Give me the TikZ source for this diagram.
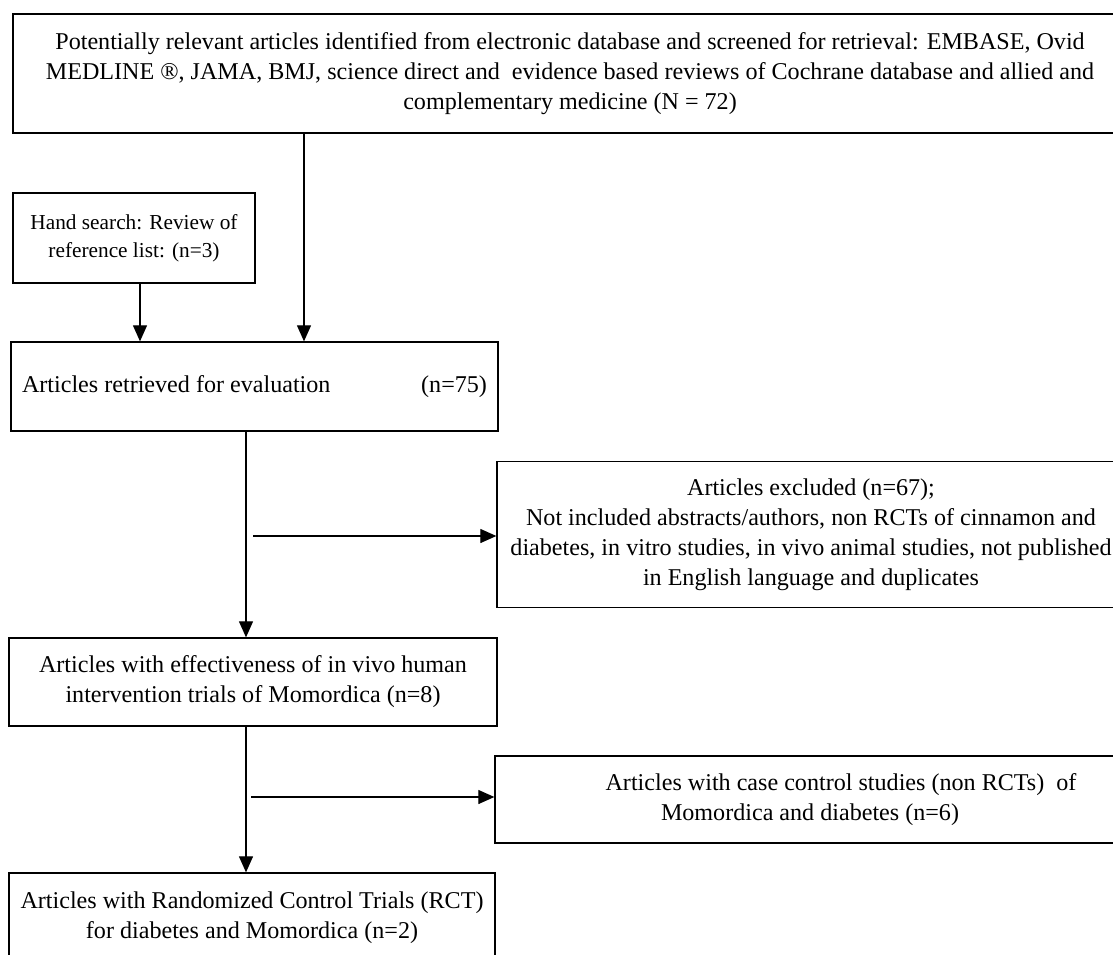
\documentclass[tikz,border=0pt]{standalone}
\usepackage{fontspec}
\setmainfont{Liberation Serif}
\usetikzlibrary{arrows.meta}
\begin{document}
\begin{tikzpicture}[x=1pt,y=-1pt,
  box/.style={draw, line width=1.3pt, rectangle, inner sep=0pt, align=center,
    font=\fontsize{24.1}{30}\selectfont},
  link/.style={line width=1.1pt, -{Triangle[length=16pt,width=14pt]}}]
\useasboundingbox (0,0) rectangle (1113,955);
\node[box, minimum width=1114pt, minimum height=119pt] (top) at (570,73.5)
  {Potentially relevant articles identified from electronic database and screened for retrieval: EMBASE, Ovid\\
   MEDLINE \textregistered, JAMA, BMJ, science direct and\ \ evidence based reviews of Cochrane database and allied and\\
   complementary medicine (N = 72)};
\node[box, minimum width=242pt, minimum height=90pt, font=\fontsize{21.3}{28}\selectfont] (hand) at (134,238)
  {Hand search: Review of\\reference list: (n=3)};
\node[box, minimum width=487pt, minimum height=89pt] (retr) at (254.5,386.5)
  {\makebox[465pt]{Articles retrieved for evaluation\hfill(n=75)}};
\node[box, minimum width=628pt, minimum height=146pt] (excl) at (811,534.5)
  {Articles excluded (n=67);\\
   Not included abstracts/authors, non RCTs of cinnamon and\\
   diabetes, in vitro studies, in vivo animal studies, not published\\
   in English language and duplicates};
\node[box, minimum width=488pt, minimum height=88pt] (eff) at (253,682)
  {Articles with effectiveness of in vivo human\\intervention trials of Momordica (n=8)};
\node[box, minimum width=630pt, minimum height=87pt] (case) at (810,799.5)
  {\hspace*{62pt}Articles with case control studies (non RCTs)\ \ of\\Momordica and diabetes (n=6)};
\node[box, minimum width=486pt, minimum height=90pt] (rct) at (252,918)
  {Articles with Randomized Control Trials (RCT)\\for diabetes and Momordica (n=2)};
\coordinate (xa) at (304,0);
\coordinate (xb) at (140,0);
\coordinate (xc) at (246,0);
\coordinate (ba) at (253,536);
\coordinate (bb) at (251,797);
\draw[link] (top.south -| xa) -- (retr.north -| xa);
\draw[link] (hand.south -| xb) -- (retr.north -| xb);
\draw[link] (retr.south -| xc) -- (eff.north -| xc);
\draw[link] (ba) -- (excl.west |- ba);
\draw[link] (eff.south -| xc) -- (rct.north -| xc);
\draw[link] (bb) -- (case.west |- bb);
\end{tikzpicture}
\end{document}
